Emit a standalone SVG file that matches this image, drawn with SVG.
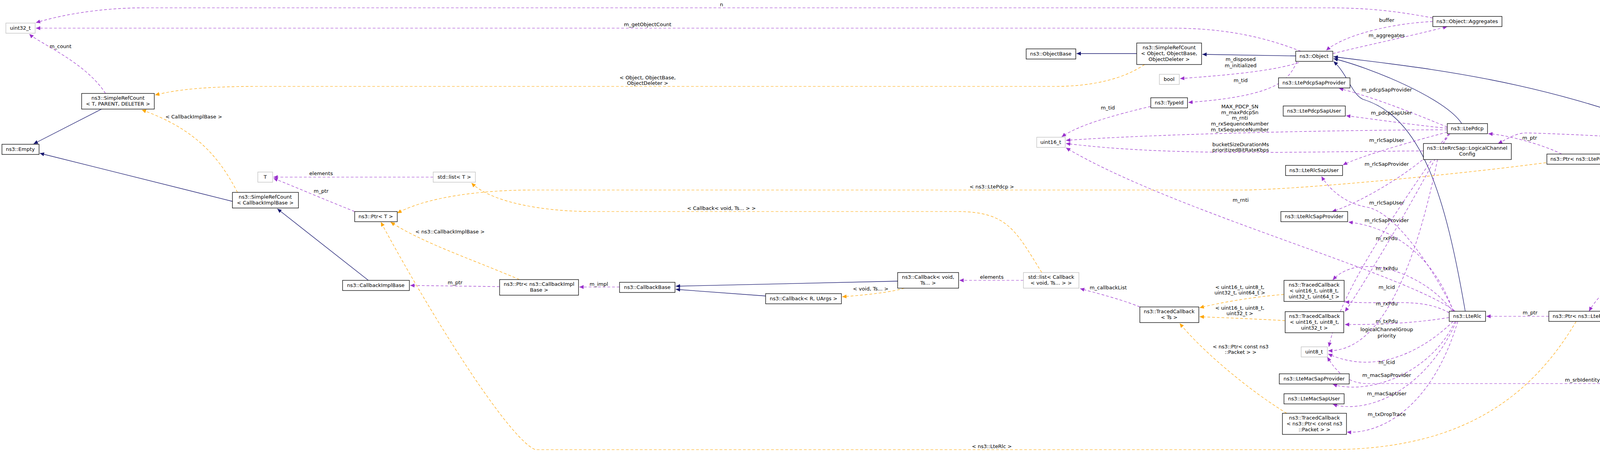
<svg xmlns="http://www.w3.org/2000/svg" width="4824" height="1156" viewBox="0 0 4824 1156">
<style>
text{font-family:"DejaVu Sans","Liberation Sans",sans-serif;font-size:13px;fill:#000;text-anchor:middle}
.n rect{fill:#fff;stroke:#000;stroke-width:1.3}
.g rect{fill:#fff;stroke:#bfbfbf;stroke-width:1.3}
.s rect{fill:#bfbfbf;stroke:#000;stroke-width:1.3}
.p{fill:none;stroke:#9a32cd;stroke-width:1.2;stroke-dasharray:7,5;marker-end:url(#ap)}
.o{fill:none;stroke:#ffa500;stroke-width:1.2;stroke-dasharray:7,5;marker-end:url(#ao)}
.b{fill:none;stroke:#191970;stroke-width:1.3;marker-end:url(#ab)}
</style>
<defs>
<marker id="ap" markerWidth="12" markerHeight="10" refX="11" refY="5" orient="auto" markerUnits="userSpaceOnUse"><path d="M0,0 L11,5 L0,10 z" fill="#9a32cd"/></marker>
<marker id="ao" markerWidth="12" markerHeight="10" refX="11" refY="5" orient="auto" markerUnits="userSpaceOnUse"><path d="M0,0 L11,5 L0,10 z" fill="#ffa500"/></marker>
<marker id="ab" markerWidth="12" markerHeight="10" refX="11" refY="5" orient="auto" markerUnits="userSpaceOnUse"><path d="M0,0 L11,5 L0,10 z" fill="#191970"/></marker>
</defs>
<rect width="4824" height="1156" fill="#fff"/>
<g id="connectors">
<path class="b" d="M260,279 L86,368"/>
<path class="b" d="M595,515 L102,392"/>
<path class="b" d="M943,717 L710,534"/>
<path class="b" d="M3317,143 L3078,139"/>
<path class="b" d="M2910,137 L2756,137"/>
<path class="b" d="M3742,316 C3700,250 3500,170 3414,150"/>
<path class="b" d="M4402,394 C4000,200 3600,170 3414,145"/>
<path class="b" d="M3751,796 C3700,500 3640,300 3489,254 C3460,240 3450,190 3414,157"/>
<path class="b" d="M4580,407 L4532,407"/>
<path class="b" d="M2298,719 L1730,732"/>
<path class="b" d="M1960,757 L1730,740"/>

<path class="p" d="M3668,46 C3560,25 3480,20 3400,20 L370,20 C250,20 150,40 92,58"/>
<text x="1847" y="16">n</text>
<path class="p" d="M3330,131 C3250,100 3150,72 3000,72 L92,72"/>
<text x="1658" y="67">m_getObjectCount</text>
<path class="p" d="M3412,137 C3500,115 3600,95 3705,68"/>
<text x="3550" y="95">m_aggregates</text>
<path class="p" d="M3668,55 C3560,60 3440,90 3395,129"/>
<text x="3550" y="56">buffer</text>
<path class="p" d="M3325,160 C3250,185 3100,195 3021,201"/>
<text x="3176" y="156">m_disposed</text><text x="3176" y="172">m_initialized</text>
<path class="p" d="M3320,158 C3300,200 3280,245 3042,262"/>
<text x="3176" y="210">m_tid</text>
<path class="p" d="M2946,272 C2850,295 2760,320 2718,350"/>
<text x="2836" y="280">m_tid</text>
<path class="p" d="M3705,332 C3500,332 3000,340 2729,359"/>
<text x="3174" y="277">MAX_PDCP_SN</text><text x="3174" y="292">m_maxPdcpSn</text><text x="3174" y="306">m_rnti</text><text x="3174" y="321">m_rxSequenceNumber</text><text x="3174" y="336">m_txSequenceNumber</text>
<path class="p" d="M3644,386 C3300,388 3000,400 2729,367"/>
<text x="3176" y="374">bucketSizeDurationMs</text><text x="3176" y="388">prioritizedBitRateKbps</text>
<path class="p" d="M3725,796 C3600,700 3000,540 2729,378"/>
<text x="3176" y="516">m_rnti</text>
<path class="p" d="M3705,325 C3620,290 3520,250 3428,226"/>
<text x="3550" y="234">m_pdcpSapProvider</text>
<path class="p" d="M3705,328 C3620,320 3520,305 3446,296"/>
<text x="3562" y="293">m_pdcpSapUser</text>
<path class="p" d="M3705,338 C3620,360 3480,400 3438,422"/>
<text x="3550" y="363">m_rlcSapUser</text>
<path class="p" d="M3710,342 C3640,430 3480,520 3410,541"/>
<text x="3550" y="424">m_rlcSapProvider</text>
<path class="p" d="M3722,796 C3650,650 3560,540 3500,530 C3440,520 3400,480 3383,451"/>
<text x="3550" y="523">m_rlcSapUser</text>
<path class="p" d="M3720,796 C3670,650 3560,580 3452,568"/>
<text x="3550" y="568">m_rlcSapProvider</text>
<path class="p" d="M3718,796 C3650,700 3480,640 3412,716"/>
<text x="3550" y="614">m_rxPdu</text>
<path class="p" d="M3710,800 C3640,760 3560,780 3443,772"/>
<text x="3550" y="691">m_txPdu</text>
<path class="p" d="M3712,342 C3560,560 3430,750 3402,887"/>
<text x="3550" y="739">m_lcid</text>
<path class="p" d="M3708,342 C3600,550 3470,760 3443,797"/>
<text x="3550" y="781">m_rxPdu</text>
<path class="p" d="M3710,812 C3600,830 3500,830 3443,830"/>
<text x="3550" y="826">m_txPdu</text>
<path class="p" d="M3680,408 C3640,600 3560,900 3400,897"/>
<text x="3550" y="847">logicalChannelGroup</text><text x="3550" y="863">priority</text>
<path class="p" d="M3720,822 C3640,900 3520,960 3400,905"/>
<text x="3550" y="931">m_lcid</text>
<path class="p" d="M3725,822 C3660,960 3500,1010 3412,983"/>
<text x="3550" y="964">m_macSapProvider</text>
<path class="p" d="M3728,822 C3650,1000 3500,1060 3412,1034"/>
<text x="3550" y="1011">m_macSapUser</text>
<path class="p" d="M3732,822 C3660,1060 3520,1110 3448,1105"/>
<text x="3550" y="1064">m_txDropTrace</text>
<path class="p" d="M4700,419 C4700,700 4680,981 4500,981 L3500,981 C3450,981 3420,950 3398,913"/>
<text x="4051" y="976">m_srbIdentity</text>
<path class="p" d="M3965,809 L3805,809"/>
<text x="3917" y="804">m_ptr</text>
<path class="p" d="M4423,419 C4380,550 4120,700 4068,796"/>
<text x="4249" y="520">m_rlc</text>
<path class="p" d="M4352,407 L4145,407"/>
<text x="4249" y="402">m_pdcp</text>
<path class="p" d="M3998,394 C3950,370 3860,345 3810,342"/>
<text x="3916" y="357">m_ptr</text>
<path class="p" d="M4615,394 C4450,360 3950,340 3905,340 C3880,340 3850,360 3835,367"/>
<text x="4249" y="345">m_logicalChannelConfig</text>
<path class="p" d="M908,541 C830,510 760,480 700,456"/>
<text x="822" y="493">m_ptr</text>
<path class="p" d="M1109,453 L700,453"/>
<text x="822" y="448">elements</text>
<path class="p" d="M1279,733 L1050,730"/>
<text x="1165" y="727">m_ptr</text>
<path class="p" d="M1586,734 L1483,734"/>
<text x="1533" y="731">m_impl</text>
<path class="p" d="M2620,717 L2456,717"/>
<text x="2539" y="713">elements</text>
<path class="p" d="M2918,785 C2870,765 2800,748 2765,738"/>
<text x="2837" y="740">m_callbackList</text>
<path class="p" d="M270,239 C220,160 100,110 75,87"/>
<text x="155" y="123">m_count</text>

<path class="o" d="M2930,165 C2880,200 2800,221 2700,221 L660,221 C520,221 450,230 397,243"/>
<text x="1658" y="203">&lt; Object, ObjectBase,</text><text x="1658" y="217">ObjectDeleter &gt;</text>
<path class="o" d="M608,492 C560,400 500,330 363,281"/>
<text x="496" y="303">&lt; CallbackImplBase &gt;</text>
<path class="o" d="M1330,715 C1200,660 1080,620 1000,568"/>
<text x="1152" y="597">&lt; ns3::CallbackImplBase &gt;</text>
<path class="o" d="M3958,416 C3700,450 3300,486 3180,486 L1360,486 C1250,486 1100,500 1017,545"/>
<text x="2539" y="482">&lt; ns3::LtePdcp &gt;</text>
<path class="o" d="M4035,822 C3900,1050 3700,1150 3400,1150 L1370,1150 C1300,1120 1100,800 975,568"/>
<text x="2539" y="1146">&lt; ns3::LteRlc &gt;</text>
<path class="o" d="M2667,697 C2600,590 2580,541 2450,541 L1514,541 C1400,541 1260,520 1207,468"/>
<text x="1847" y="537">&lt; Callback&lt; void, Ts... &gt; &gt;</text>
<path class="o" d="M2315,737 C2280,748 2210,755 2156,759"/>
<text x="2229" y="743">&lt; void, Ts... &gt;</text>
<path class="o" d="M3287,753 C3200,760 3120,775 3071,787"/>
<text x="3174" y="739">&lt; uint16_t, uint8_t,</text><text x="3174" y="753">uint32_t, uint64_t &gt;</text>
<path class="o" d="M3290,820 C3200,815 3120,812 3071,810"/>
<text x="3174" y="792">&lt; uint16_t, uint8_t,</text><text x="3174" y="806">uint32_t &gt;</text>
<path class="o" d="M3294,1057 C3200,1000 3080,900 3020,827"/>
<text x="3176" y="891">&lt; ns3::Ptr&lt; const ns3</text><text x="3176" y="905">::Packet &gt; &gt;</text>
</g>

<g id="uint32_t" class="g"><rect x="15" y="59" width="75" height="26"/><text x="52" y="76">uint32_t</text></g>
<g id="SRC_T" class="n"><rect x="209" y="239" width="186" height="40"/><text x="302" y="255">ns3::SimpleRefCount</text><text x="302" y="270">&lt; T, PARENT, DELETER &gt;</text></g>
<g id="Empty" class="n"><rect x="5" y="369" width="95" height="26"/><text x="52" y="386">ns3::Empty</text></g>
<g id="SRC_CIB" class="n"><rect x="595" y="492" width="169" height="40"/><text x="679" y="508">ns3::SimpleRefCount</text><text x="679" y="523">&lt; CallbackImplBase &gt;</text></g>
<g id="T" class="g"><rect x="660" y="440" width="38" height="26"/><text x="679" y="457">T</text></g>
<g id="listT" class="g"><rect x="1109" y="440" width="108" height="26"/><text x="1163" y="457">std::list&lt; T &gt;</text></g>
<g id="PtrT" class="n"><rect x="908" y="541" width="109" height="26"/><text x="962" y="558">ns3::Ptr&lt; T &gt;</text></g>
<g id="CallbackImplBase" class="n"><rect x="877" y="717" width="171" height="26"/><text x="962" y="734">ns3::CallbackImplBase</text></g>
<g id="PtrCIB" class="n"><rect x="1279" y="715" width="202" height="40"/><text x="1380" y="731">ns3::Ptr&lt; ns3::CallbackImpl</text><text x="1380" y="746">Base &gt;</text></g>
<g id="CallbackBase" class="n"><rect x="1586" y="722" width="142" height="26"/><text x="1657" y="739">ns3::CallbackBase</text></g>
<g id="CallbackRU" class="n"><rect x="1960" y="751" width="194" height="26"/><text x="2057" y="768">ns3::Callback&lt; R, UArgs &gt;</text></g>
<g id="CallbackVoid" class="n"><rect x="2298" y="697" width="156" height="40"/><text x="2376" y="713">ns3::Callback&lt; void,</text><text x="2376" y="728">Ts... &gt;</text></g>
<g id="listCB" class="g"><rect x="2620" y="697" width="142" height="40"/><text x="2691" y="713">std::list&lt; Callback</text><text x="2691" y="728">&lt; void, Ts... &gt; &gt;</text></g>
<g id="TCTs" class="n"><rect x="2918" y="785" width="151" height="40"/><text x="2993" y="801">ns3::TracedCallback</text><text x="2993" y="816">&lt; Ts &gt;</text></g>
<g id="TC4" class="n"><rect x="3287" y="717" width="154" height="54"/><text x="3364" y="733">ns3::TracedCallback</text><text x="3364" y="748">&lt; uint16_t, uint8_t,</text><text x="3364" y="763">uint32_t, uint64_t &gt;</text></g>
<g id="TC3" class="n"><rect x="3290" y="797" width="150" height="54"/><text x="3365" y="813">ns3::TracedCallback</text><text x="3365" y="828">&lt; uint16_t, uint8_t,</text><text x="3365" y="843">uint32_t &gt;</text></g>
<g id="uint8_t" class="g"><rect x="3331" y="887" width="67" height="26"/><text x="3364" y="904">uint8_t</text></g>
<g id="MacSapProvider" class="n"><rect x="3275" y="956" width="179" height="26"/><text x="3364" y="973">ns3::LteMacSapProvider</text></g>
<g id="MacSapUser" class="n"><rect x="3287" y="1007" width="154" height="26"/><text x="3364" y="1024">ns3::LteMacSapUser</text></g>
<g id="TCPacket" class="n"><rect x="3283" y="1057" width="164" height="54"/><text x="3365" y="1073">ns3::TracedCallback</text><text x="3365" y="1088">&lt; ns3::Ptr&lt; const ns3</text><text x="3365" y="1103">::Packet &gt; &gt;</text></g>
<g id="LteRlc" class="n"><rect x="3710" y="796" width="93" height="26"/><text x="3756" y="813">ns3::LteRlc</text></g>
<g id="PtrRlc" class="n"><rect x="3965" y="796" width="172" height="26"/><text x="4051" y="813">ns3::Ptr&lt; ns3::LteRlc &gt;</text></g>
<g id="ObjectBase" class="n"><rect x="2627" y="125" width="127" height="26"/><text x="2690" y="142">ns3::ObjectBase</text></g>
<g id="SRC_Obj" class="n"><rect x="2910" y="110" width="166" height="55"/><text x="2993" y="126">ns3::SimpleRefCount</text><text x="2993" y="141">&lt; Object, ObjectBase,</text><text x="2993" y="156">ObjectDeleter &gt;</text></g>
<g id="Object" class="n"><rect x="3317" y="131" width="95" height="26"/><text x="3364" y="148">ns3::Object</text></g>
<g id="bool" class="g"><rect x="2968" y="190" width="51" height="26"/><text x="2993" y="207">bool</text></g>
<g id="TypeId" class="n"><rect x="2946" y="250" width="94" height="26"/><text x="2993" y="267">ns3::TypeId</text></g>
<g id="PdcpSapProvider" class="n"><rect x="3273" y="199" width="183" height="26"/><text x="3364" y="216">ns3::LtePdcpSapProvider</text></g>
<g id="PdcpSapUser" class="n"><rect x="3285" y="271" width="159" height="26"/><text x="3364" y="288">ns3::LtePdcpSapUser</text></g>
<g id="uint16_t" class="g"><rect x="2654" y="351" width="73" height="26"/><text x="2690" y="368">uint16_t</text></g>
<g id="RlcSapUser" class="n"><rect x="3291" y="423" width="146" height="26"/><text x="3364" y="440">ns3::LteRlcSapUser</text></g>
<g id="RlcSapProvider" class="n"><rect x="3279" y="541" width="171" height="26"/><text x="3364" y="558">ns3::LteRlcSapProvider</text></g>
<g id="Aggregates" class="n"><rect x="3668" y="42" width="177" height="26"/><text x="3756" y="59">ns3::Object::Aggregates</text></g>
<g id="LtePdcp" class="n"><rect x="3705" y="316" width="103" height="26"/><text x="3756" y="333">ns3::LtePdcp</text></g>
<g id="LCConfig" class="n"><rect x="3644" y="367" width="225" height="41"/><text x="3756" y="383">ns3::LteRrcSap::LogicalChannel</text><text x="3756" y="398">Config</text></g>
<g id="PtrPdcp" class="n"><rect x="3960" y="394" width="183" height="26"/><text x="4051" y="411">ns3::Ptr&lt; ns3::LtePdcp &gt;</text></g>
<g id="RadioBearerInfo" class="n"><rect x="4352" y="394" width="178" height="26"/><text x="4441" y="411">ns3::LteRadioBearerInfo</text></g>
<g id="SignalingRadioBearerInfo" class="s"><rect x="4580" y="394" width="239" height="26"/><text x="4699" y="411">ns3::LteSignalingRadioBearerInfo</text></g>
</svg>
